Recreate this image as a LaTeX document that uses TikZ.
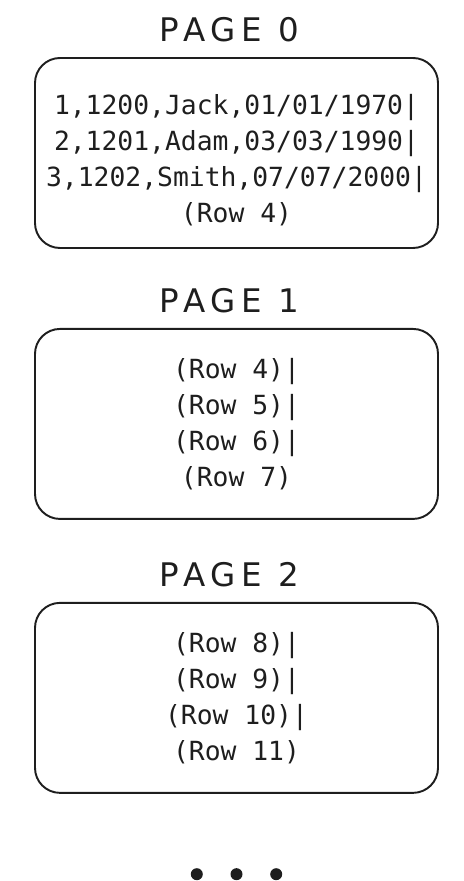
\documentclass[tikz,border=0pt]{standalone}
\usepackage{fontspec}
\usepackage{xcolor}
\usepackage{tikz}
\usetikzlibrary{positioning}

\setmonofont{DejaVu Sans Mono}
\newfontfamily\titlefont[LetterSpace=18]{DejaVu Sans}
\definecolor{inkgray}{HTML}{1E1E1E}

\begin{document}
\begin{tikzpicture}[
  pagebox/.style={draw=inkgray, line width=1.1pt, rounded corners=5mm, align=center,
    minimum width=8.06cm, minimum height=3.8cm, text=inkgray,
    font=\ttfamily\fontsize{15}{20.5}\selectfont},
  pagetitle/.style={inner sep=0pt, text=inkgray, font=\titlefont\fontsize{18.5}{20}\selectfont},
  dot/.style={circle, fill=inkgray, inner sep=0pt, minimum size=2.4mm}
]
\useasboundingbox (0,0) rectangle (9.26,-17.62);

% pages
\node[pagebox] (p0) at (4.73,-3.06) {\rule{0pt}{20pt}1,1200,Jack,01/01/1970|\\2,1201,Adam,03/03/1990|\\3,1202,Smith,07/07/2000|\\(Row 4)};
\node[pagebox, below=1.58cm of p0] (p1) {(Row 4)|\\(Row 5)|\\(Row 6)|\\(Row 7)};
\node[pagebox, below=1.64cm of p1] (p2) {(Row 8)|\\(Row 9)|\\(Row 10)|\\(Row 11)};

% titles
\node[pagetitle, above=0.3cm of p0, xshift=-1.4mm] (t0) {PAGE 0};
\node[pagetitle, above=0.3cm of p1, xshift=-1.4mm] (t1) {PAGE 1};
\node[pagetitle, above=0.3cm of p2, xshift=-1.4mm] (t2) {PAGE 2};

% more pages follow
\node[dot, below=1.48cm of p2] (d2) {};
\node[dot, left=5.4mm of d2] (d1) {};
\node[dot, right=5.4mm of d2] (d3) {};
\end{tikzpicture}
\end{document}
